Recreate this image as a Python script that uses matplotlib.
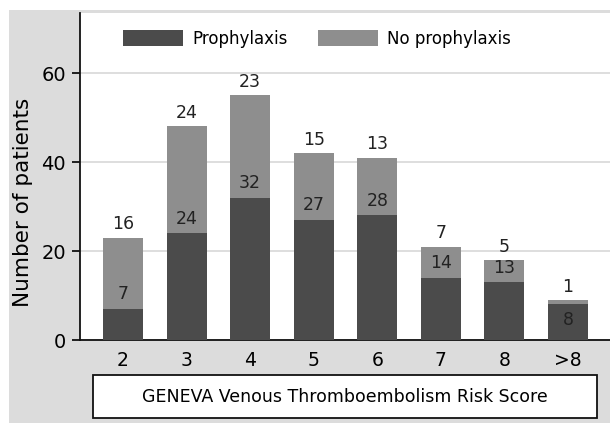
import matplotlib
matplotlib.use("Agg")
import matplotlib.pyplot as plt
from matplotlib.patches import Rectangle
import numpy as np

# GENEVA score categories and patient counts
categorias = ['2', '3', '4', '5', '6', '7', '8', '>8']
profilaxis = [7, 24, 32, 27, 28, 14, 13, 8]
sin_profilaxis = [16, 24, 23, 15, 13, 7, 5, 1]

color_oscuro = '#4b4b4b'
color_claro = '#8e8e8e'
fondo = '#dcdcdc'

plt.rcParams['font.family'] = 'DejaVu Sans'

W, H = 610, 423
fig = plt.figure(figsize=(W / 100, H / 100), dpi=100)
fig.patch.set_facecolor('white')
fig.add_artist(Rectangle((9 / W, 0), 1, 1 - 10 / H, transform=fig.transFigure,
                         facecolor=fondo, edgecolor='none', zorder=-10))

ax = fig.add_axes([80 / W, (H - 340) / H, (W - 80) / W, (340 - 12.5) / H])
ax.set_facecolor('white')

x = np.arange(len(categorias))
ancho = 0.63
ax.bar(x, profilaxis, ancho, color=color_oscuro, label='Prophylaxis', zorder=3)
ax.bar(x, sin_profilaxis, ancho, bottom=profilaxis, color=color_claro,
       label='No prophylaxis', zorder=3)

totales = np.array(profilaxis) + np.array(sin_profilaxis)
for i in range(len(categorias)):
    ax.annotate(str(sin_profilaxis[i]), (x[i], totales[i]), xytext=(0, 3),
                textcoords='offset points', ha='center', va='bottom', fontsize=12.5,
                color='#222222', zorder=4)
    if sin_profilaxis[i] >= 3:
        ax.annotate(str(profilaxis[i]), (x[i], profilaxis[i]), xytext=(0, 4),
                    textcoords='offset points', ha='center', va='bottom', fontsize=12.5,
                    color='#222222', zorder=4)
    else:
        ax.annotate(str(profilaxis[i]), (x[i], profilaxis[i]), xytext=(0, -5),
                    textcoords='offset points', ha='center', va='top', fontsize=12.5,
                    color='#222222', zorder=4)

ax.set_xlim(-0.676, len(categorias) - 1 + 0.66)
ax.set_ylim(0, 73.6)
ax.set_yticks([0, 20, 40, 60])
ax.set_xticks(x)
ax.set_xticklabels(categorias)
ax.yaxis.grid(True, color='#d8d8d8', lw=1.2, zorder=0)
ax.tick_params(axis='y', direction='out', length=6, width=1.2, labelsize=14, pad=4)
ax.tick_params(axis='x', length=0, labelsize=13.5, pad=8)
for s in ['top', 'right']:
    ax.spines[s].set_visible(False)
for s in ['left', 'bottom']:
    ax.spines[s].set_linewidth(1.3)
    ax.spines[s].set_color('#111111')

ax.set_ylabel('Number of patients', fontsize=15.5)
ax.yaxis.set_label_coords(-0.089, 0.42)

ax.legend(loc='center left', bbox_to_anchor=(0.053, 0.92), ncol=2, frameon=False,
          fontsize=12, handlelength=3.6, handleheight=1.08, handletextpad=0.55,
          columnspacing=1.8)

# caja del título del eje x
fig.add_artist(Rectangle((93 / W, (H - 418) / H), (597 - 93) / W, (418 - 375) / H,
                         transform=fig.transFigure, facecolor='white',
                         edgecolor='#111111', lw=1.3))
fig.text((93 + 597) / 2 / W, (H - 397) / H, 'GENEVA Venous Thromboembolism Risk Score',
         ha='center', va='center', fontsize=12.5)

fig.savefig('out.png', dpi=100, facecolor=fig.get_facecolor())
